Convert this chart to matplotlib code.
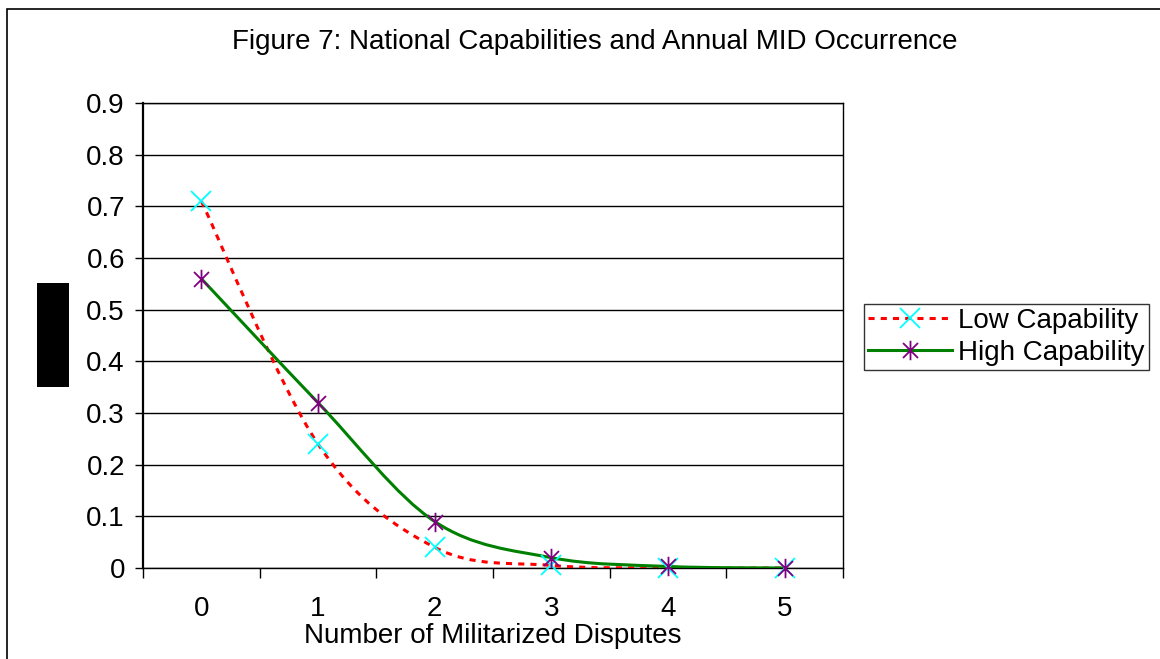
import matplotlib
matplotlib.use("Agg")
import matplotlib.pyplot as plt
import numpy as np
from matplotlib.path import Path
from matplotlib.patches import PathPatch, Rectangle
from matplotlib.lines import Line2D

plt.rcParams['font.family'] = ['Liberation Sans', 'DejaVu Sans']

# data
disputes = [0, 1, 2, 3, 4, 5]
low_cap = [0.71, 0.24, 0.04, 0.005, 0.0, 0.0]
high_cap = [0.56, 0.32, 0.09, 0.02, 0.003, 0.0]
y_ticks = [0, 0.1, 0.2, 0.3, 0.4, 0.5, 0.6, 0.7, 0.8, 0.9]

# excel style asterisk: an x plus a vertical bar
star = Path([(-1, -1), (1, 1), (-1, 1), (1, -1), (0, -1.3), (0, 1.3)],
            [Path.MOVETO, Path.LINETO, Path.MOVETO, Path.LINETO, Path.MOVETO, Path.LINETO])


def smooth_path(xs, ys):
    # cubic bezier through the points, like excel's "smoothed line"
    p = np.column_stack([xs, ys]).astype(float)
    verts = [p[0]]
    codes = [Path.MOVETO]
    n = len(p)
    for i in range(n - 1):
        prev = p[i - 1] if i > 0 else p[i]
        nxt = p[i + 2] if i + 2 < n else p[i + 1]
        c1 = p[i] + (p[i + 1] - prev) / 6
        c2 = p[i + 1] - (nxt - p[i]) / 6
        verts += [c1, c2, p[i + 1]]
        codes += [Path.CURVE4] * 3
    return Path(verts, codes)


fig = plt.figure(figsize=(11.6, 6.59), dpi=100)
ax = fig.add_axes([143 / 1160, 91 / 659, 700 / 1160, 465 / 659])

low_style = dict(color='#FF0000', lw=2.2, linestyle=(0, (2, 2)))
high_style = dict(color='#008000', lw=2.2, linestyle='-')

ax.add_patch(PathPatch(smooth_path(disputes, low_cap), fill=False, zorder=3,
                       edgecolor=low_style['color'], lw=low_style['lw'],
                       linestyle=low_style['linestyle']))
ax.add_patch(PathPatch(smooth_path(disputes, high_cap), fill=False, zorder=3,
                       edgecolor=high_style['color'], lw=high_style['lw']))
ax.plot(disputes, low_cap, linestyle='none', marker='x', ms=15, mew=1.3,
        color='#00FFFF', zorder=4, clip_on=False)
ax.plot(disputes, high_cap, linestyle='none', marker=star, ms=14, mew=1.3,
        color='#800080', zorder=5, clip_on=False)

ax.set_xlim(-0.5, 5.5)
ax.set_ylim(0, 0.9)
ax.set_yticks(y_ticks)
ax.set_yticklabels([f'{t:g}' for t in y_ticks], fontsize=20)
ax.set_xticks(disputes)
ax.set_xticklabels([str(d) for d in disputes], fontsize=20)
ax.tick_params(axis='x', length=0, pad=20)
ax.set_xticks(np.arange(-0.5, 6, 1), minor=True)
ax.tick_params(axis='x', which='minor', length=7, width=1, direction='out')
ax.tick_params(axis='y', length=6, width=1, direction='out', pad=7)
ax.grid(axis='y', color='black', lw=1)
for s in ax.spines.values():
    s.set_linewidth(1)
ax.spines['left'].set_linewidth(1.6)
ax.set_axisbelow(True)

ax.set_xlabel('Number of Militarized Disputes', fontsize=20, labelpad=1)
fig.text(595 / 1160, 1 - 42 / 659, 'Figure 7: National Capabilities and Annual MID Occurrence',
         ha='center', va='center', fontsize=20)

handles = [Line2D([], [], marker='x', ms=15, mew=1.3, mec='#00FFFF', **low_style),
           Line2D([], [], marker=star, ms=14, mew=1.3, mec='#800080', **high_style)]
fig.legend(handles, ['Low Capability', 'High Capability'], loc='upper left',
           bbox_to_anchor=(864 / 1160, 1 - 304 / 659), fontsize=20, frameon=True,
           fancybox=False, edgecolor='black', borderpad=0.15, handlelength=3.0,
           handletextpad=0.25, labelspacing=0.2, borderaxespad=0)
fig.legends[0].get_frame().set_linewidth(1)

# outer chart border and the blacked-out axis title
fig.patches.append(Rectangle((7 / 1160, -0.1), 1.2, 1.1 - 9 / 659, transform=fig.transFigure,
                             fill=False, edgecolor='black', lw=1.2))
fig.patches.append(Rectangle((37 / 1160, 1 - 387 / 659), 32 / 1160, 104 / 659,
                             transform=fig.transFigure, facecolor='black', edgecolor='none'))

fig.savefig('out.png', dpi=100)
